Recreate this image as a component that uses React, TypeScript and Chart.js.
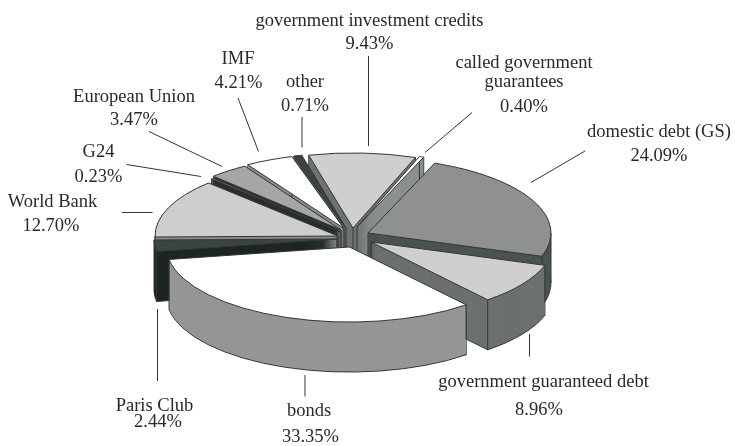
import React, { useEffect, useRef } from "react";
import { Chart, registerables } from "chart.js";

Chart.register(...registerables);

const categories = ["government investment credits", "called government guarantees", "domestic debt (GS)", "government guaranteed debt", "bonds", "Paris Club", "World Bank", "G24", "European Union", "IMF", "other"];
const shares = [9.43, 0.4, 24.09, 8.96, 33.35, 2.44, 12.7, 0.23, 3.47, 4.21, 0.71];
const topColors = ["#cfcfcf", "#ffffff", "#8f9092", "#cfcfcf", "#ffffff", "#3b4443", "#cecece", "#8a8c8c", "#a6a6a6", "#ffffff", "#3b4443"];
const wallColors = ["#6e7272", "#8a8f8f", "#4b5352", "#6c706f", "#959697", "#1e2625", "#8a8a8a", "#2a2f2f", "#2a2f2f", "#8c8c8c", "#4b5352"];
const shiftX = [1, 5, 16, 19, -2.5, -15, -14, -11, -11, -8, -6];
const shiftY = [-12, -13, -7, 2, 7, -1, -4, -8, -10, -11.5, -12];

const labelLines: [string, number, number][] = [
  ["government investment credits", 369.5, 26],
  ["9.43%", 369.5, 49],
  ["called government", 524, 68],
  ["guarantees", 524, 87],
  ["0.40%", 524, 111.5],
  ["domestic debt (GS)", 659, 137],
  ["24.09%", 659, 161],
  ["government guaranteed debt", 543.5, 386.5],
  ["8.96%", 539, 415],
  ["bonds", 309, 416],
  ["33.35%", 310.5, 442],
  ["Paris Club", 154.5, 410.5],
  ["2.44%", 158, 427],
  ["World Bank", 52.5, 207],
  ["12.70%", 51, 230.5],
  ["G24", 98.5, 156.5],
  ["0.23%", 98.5, 182],
  ["European Union", 134, 101.5],
  ["3.47%", 134, 125],
  ["IMF", 238, 64],
  ["4.21%", 238.5, 87.5],
  ["other", 305, 87],
  ["0.71%", 305, 110.5],
];
const leaders: [number, number, number, number][] = [
  [368.5, 56, 368.5, 146],
  [472, 112.5, 425, 152.5],
  [585, 151, 531, 182.5],
  [529.5, 334, 529.5, 356.5],
  [305, 375, 305, 396.5],
  [157.5, 309, 157.5, 381],
  [122, 212.5, 152.5, 212.5],
  [126.5, 164.5, 201, 176.5],
  [149, 131.5, 222, 166.5],
  [238, 98, 258.5, 151.5],
  [302, 117, 302, 147.5],
];

const PIE_X = 352;
const PIE_Y = 240;
const SQUASH = 0.41;
const DEPTH = 50;
const RADIUS = 183;

const pie3d = {
  id: "pie3d",
  beforeDatasetsDraw(chart: any) {
    const ctx = chart.ctx;
    const arcs = chart.getDatasetMeta(0).data as any[];
    const nativeStroke = ctx.stroke;
    ctx.stroke = function () {
      ctx.save();
      ctx.setTransform(1, 0, 0, 1, 0, 0);
      nativeStroke.call(ctx);
      ctx.restore();
    };
    const paint = (arc: any, i: number, dy: number, fill: string, lineWidth: number) => {
      const saved = arc.options;
      arc.options = { ...saved, backgroundColor: fill, borderColor: "#333636", borderWidth: lineWidth, offset: 0, spacing: 0 };
      ctx.save();
      ctx.translate(PIE_X + shiftX[i], PIE_Y + shiftY[i] + dy);
      ctx.scale(1, SQUASH);
      ctx.translate(-arc.x, -arc.y);
      arc.draw(ctx);
      ctx.restore();
      arc.options = saved;
    };
    const order = arcs.map((a, i) => i).sort((a, b) => {
      const ma = (arcs[a].startAngle + arcs[a].endAngle) / 2;
      const mb = (arcs[b].startAngle + arcs[b].endAngle) / 2;
      return Math.sin(ma) - Math.sin(mb);
    });
    for (const i of order) {
      const arc = arcs[i];
      paint(arc, i, DEPTH, wallColors[i], 1);
      for (let d = DEPTH - 1; d > 0; d--) paint(arc, i, d, wallColors[i], 0);
      const ox = PIE_X + shiftX[i];
      const oy = PIE_Y + shiftY[i];
      const edges = [
        [ox, oy],
        [ox + Math.cos(arc.startAngle) * arc.outerRadius, oy + Math.sin(arc.startAngle) * arc.outerRadius * SQUASH],
        [ox + Math.cos(arc.endAngle) * arc.outerRadius, oy + Math.sin(arc.endAngle) * arc.outerRadius * SQUASH],
      ];
      for (const side of [0, Math.PI, 2 * Math.PI, 3 * Math.PI]) {
        if (side > arc.startAngle && side < arc.endAngle) {
          edges.push([ox + Math.cos(side) * arc.outerRadius, oy]);
        }
      }
      ctx.save();
      ctx.strokeStyle = "#333636";
      ctx.lineWidth = 1;
      for (const [x, y] of edges) {
        ctx.beginPath();
        ctx.moveTo(x, y);
        ctx.lineTo(x, y + DEPTH);
        ctx.stroke();
      }
      ctx.restore();
      paint(arc, i, 0, topColors[i], 1);
    }
    delete ctx.stroke;
    return false;
  },
  afterDraw(chart: any) {
    const ctx = chart.ctx;
    ctx.save();
    ctx.strokeStyle = "#333333";
    ctx.lineWidth = 1;
    for (const [x1, y1, x2, y2] of leaders) {
      ctx.beginPath();
      ctx.moveTo(x1, y1);
      ctx.lineTo(x2, y2);
      ctx.stroke();
    }
    ctx.fillStyle = "#2b2829";
    ctx.font = "18.5px 'Liberation Serif'";
    ctx.textAlign = "center";
    ctx.textBaseline = "alphabetic";
    for (const [text, x, y] of labelLines) ctx.fillText(text, x, y);
    ctx.restore();
  },
};

export default function App() {
  const ref = useRef<HTMLCanvasElement>(null);
  useEffect(() => {
    const chart = new Chart(ref.current as HTMLCanvasElement, {
      type: "pie",
      data: {
        labels: categories,
        datasets: [{ data: shares, backgroundColor: topColors }],
      },
      options: {
        animation: false,
        responsive: false,
        events: [],
        rotation: -14,
        radius: RADIUS,
        plugins: { legend: { display: false }, tooltip: { enabled: false } },
      },
      plugins: [pie3d],
    } as any);
    return () => chart.destroy();
  }, []);
  return (
    <div style={{ position: "absolute", left: 0, top: 0, width: 735, height: 446, background: "#fff" }}>
      <canvas ref={ref} width={735} height={446} style={{ display: "block" }} />
    </div>
  );
}
